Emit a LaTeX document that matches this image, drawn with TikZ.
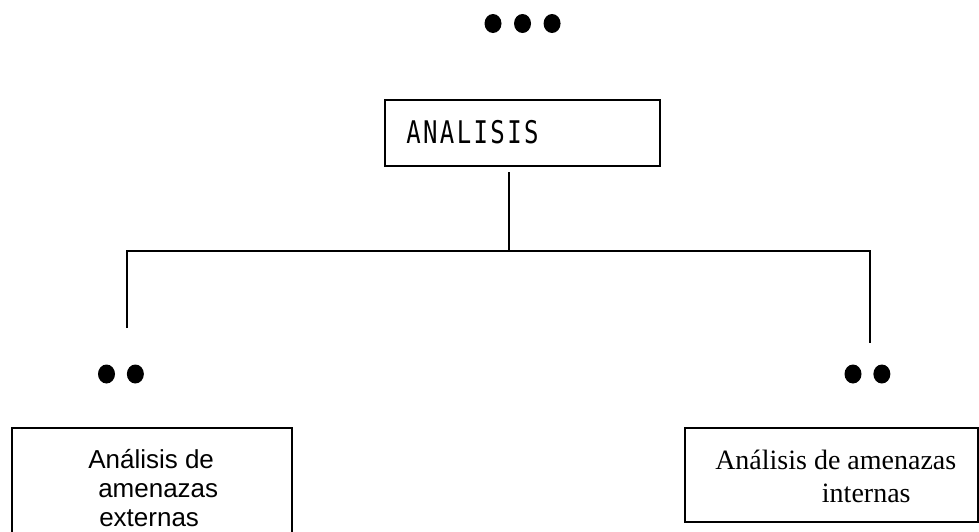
\documentclass[tikz,border=0pt]{standalone}
\usepackage{fontspec}
\setmainfont{Liberation Serif}
\newfontfamily\arialfont{Liberation Sans}
\newfontfamily\heifont[LetterSpace=10]{DejaVu Sans Mono}
\usetikzlibrary{shapes.geometric}
\usetikzlibrary{positioning}

\begin{document}
\begin{tikzpicture}[x=0.75pt,y=-0.75pt,
		caja/.style={draw,line width=1pt,inner sep=0pt},
		punto/.style={fill,ellipse,inner sep=0pt,minimum width=12.75pt,minimum height=14.25pt},
		linea/.style={line width=1pt}]
		\useasboundingbox (0,0) rectangle (979,532);

		% Boxes
		\node[caja,minimum width=275*0.75pt,minimum height=66*0.75pt] (analisis) at (522.5,133) {};
		\node[caja,minimum width=280*0.75pt,minimum height=117*0.75pt] (externas) at (152,486.5) {};
		\node[caja,minimum width=293*0.75pt,minimum height=94*0.75pt] (internas) at (831.5,475) {};

		% Texts
		\node[anchor=west,inner sep=0pt,font=\heifont\fontsize{18pt}{20pt}\selectfont] (analisistxt) at (406,132) {\scalebox{1}[1.3]{ANALISIS}};
		\node[anchor=west,align=left,inner sep=0pt,font=\arialfont\fontsize{19.5pt}{22pt}\selectfont] (externastxt) at (88,488) {Análisis de\\\hspace*{7.5pt}amenazas\\\hspace*{8.25pt}externas};
		\node[anchor=west,align=left,inner sep=0pt,font=\fontsize{21pt}{24.75pt}\selectfont] (internastxt) at (715,476) {Análisis de amenazas\\\hspace*{80pt}internas};

		% Dots
		\node[punto] (t1) at (493,23.5) {};
		\node[punto,right=9pt of t1] (t2) {};
		\node[punto,right=9pt of t2] (t3) {};
		\node[punto] (l1) at (106.5,374) {};
		\node[punto,right=8.5pt of l1] (l2) {};
		\node[punto] (r1) at (853,374) {};
		\node[punto,right=8.5pt of r1] (r2) {};

		% Connectors
		\coordinate (tronco) at (509,172);
		\coordinate (cruce) at (509,251);
		\coordinate (izq) at (127,251);
		\coordinate (der) at (870,251);
		\coordinate (izqbaja) at (127,328);
		\coordinate (derbaja) at (870,343);
		\draw[linea] (tronco) -- (cruce);
		\draw[linea] (izqbaja) -- (izq) -- (der) -- (derbaja);
\end{tikzpicture}
\end{document}
